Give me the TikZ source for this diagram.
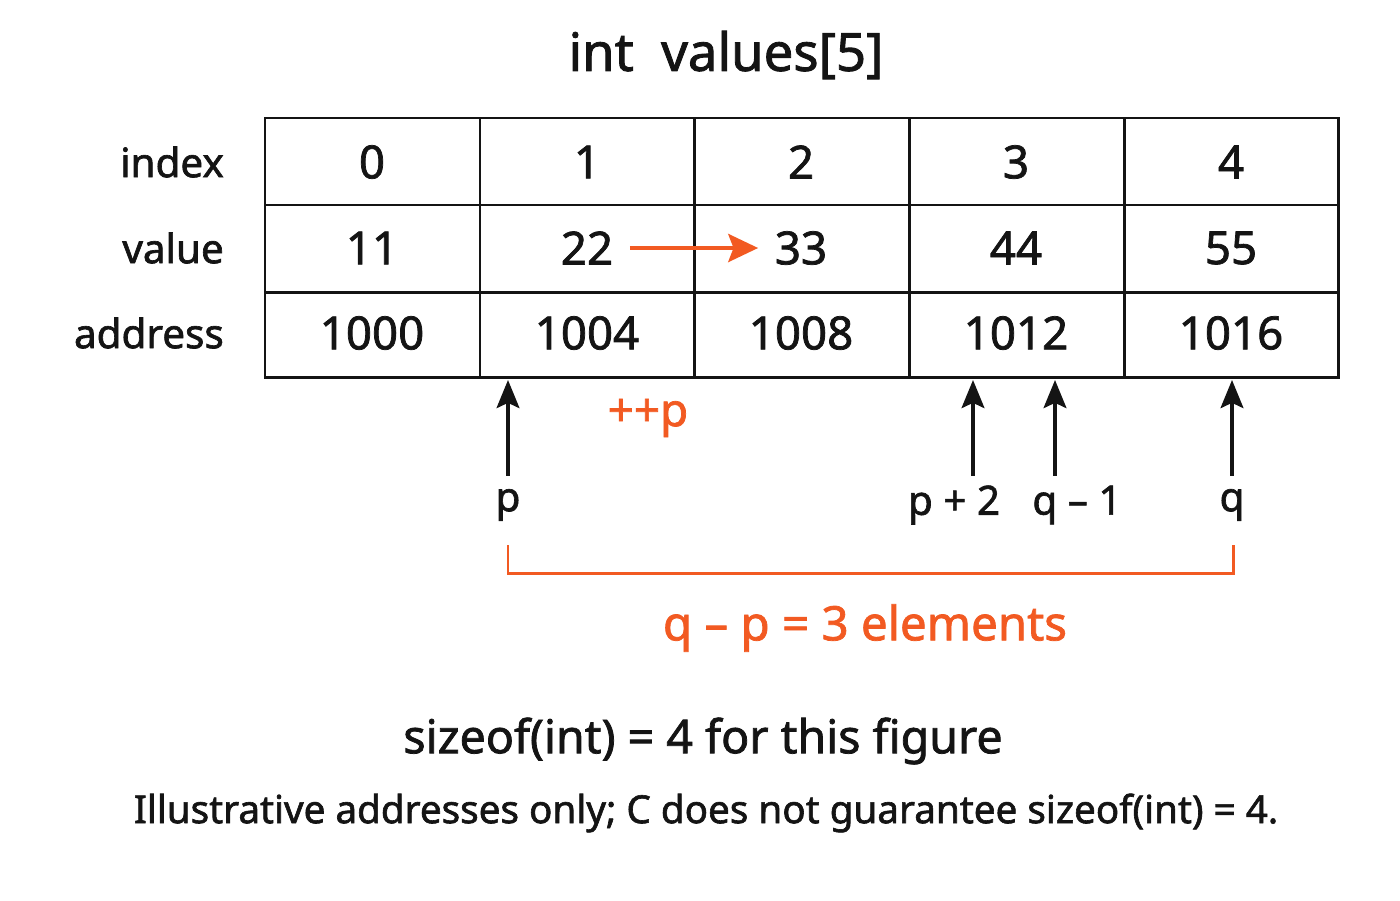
\documentclass[tikz,border=0pt]{standalone}
\usepackage{fontspec}
\setmainfont{Noto Sans}[FakeBold=1.6]
\usepackage{tikz}
\usetikzlibrary{arrows.meta,positioning}
\usepackage{xcolor}
\definecolor{ptrorange}{RGB}{242,90,34}
\definecolor{ptrblack}{RGB}{20,20,20}
\tikzstyle{cell} = [font=\fontsize{26}{30}\selectfont, text=ptrblack]
\tikzstyle{rowlabel} = [anchor=east, font=\fontsize{23}{28}\selectfont, text=ptrblack]
\tikzstyle{ptrlabel} = [font=\fontsize{23}{28}\selectfont, text=ptrblack]
\tikzstyle{ptrarrow} = [line width=1.9pt, ptrblack, -{Stealth[length=16pt,width=13pt,inset=3pt]}]
\tikzstyle{steparrow} = [line width=2.2pt, ptrorange, -{Stealth[length=17pt,width=16pt,inset=3pt]}]

\begin{document}
\begin{tikzpicture}[x=0.02cm, y=-0.02cm]
\useasboundingbox (0,0) rectangle (1400,900);

% Title
\node[font=\fontsize{30}{36}\selectfont, text=ptrblack] (title) at (726,55) {int\ \ values[5]};

% Table grid
\draw[line width=1.7pt, ptrblack] (265,118) rectangle (1338,377);
\draw[line width=1.7pt, ptrblack] (265,205) -- (1338,205);
\draw[line width=1.7pt, ptrblack] (265,292) -- (1338,292);
\foreach \x in {480,694,909,1124}
  \draw[line width=1.7pt, ptrblack] (\x,118) -- (\x,377);

% Row labels
\node[rowlabel] (lindex) at (230,162) {index};
\node[rowlabel] (lvalue) at (230,248) {value};
\node[rowlabel] (laddr) at (230,333) {address};

% Cells
\node[cell] (i0) at (372,162) {0};
\node[cell] (i1) at (587,162) {1};
\node[cell] (i2) at (801,162) {2};
\node[cell] (i3) at (1016,162) {3};
\node[cell] (i4) at (1231,162) {4};
\node[cell] (v0) at (372,248) {11};
\node[cell] (v1) at (587,248) {22};
\node[cell] (v2) at (801,248) {33};
\node[cell] (v3) at (1016,248) {44};
\node[cell] (v4) at (1231,248) {55};
\node[cell] (a0) at (372,333) {1000};
\node[cell] (a1) at (587,333) {1004};
\node[cell] (a2) at (801,333) {1008};
\node[cell] (a3) at (1016,333) {1012};
\node[cell] (a4) at (1231,333) {1016};

% ++p step
\draw[steparrow, shorten <=6pt, shorten >=6pt] (v1.east) -- (v2.west);
\node[font=\fontsize{26}{30}\selectfont, text=ptrorange] (incp) at (648,418) {++p};

% Pointers
\coordinate (tp) at (508,380);
\coordinate (tp2) at (973,380);
\coordinate (tq1) at (1055,380);
\coordinate (tq) at (1232,380);
\node[ptrlabel] (p) at (508,505) {p};
\node[ptrlabel] (p2) at (954,505) {p + 2};
\node[ptrlabel] (q1) at (1077,505) {q – 1};
\node[ptrlabel] (q) at (1232,505) {q};
\draw[ptrarrow, shorten <=4pt] (tp |- p.north) -- (tp);
\draw[ptrarrow, shorten <=4pt] (tp2 |- p.north) -- (tp2);
\draw[ptrarrow, shorten <=4pt] (tq1 |- p.north) -- (tq1);
\draw[ptrarrow, shorten <=4pt] (tq |- p.north) -- (tq);

% Distance bracket
\draw[line width=1.7pt, ptrorange] (508,545) -- (508,573) -- (1233,573) -- (1233,545);
\node[font=\fontsize{27}{32}\selectfont, text=ptrorange] (diff) at (865,628) {q – p = 3 elements};

% Notes
\node[font=\fontsize{26.5}{30}\selectfont, text=ptrblack] (note1) at (703,741) {sizeof(int) = 4 for this figure};
\node[font=\fontsize{22}{26}\selectfont, text=ptrblack] (note2) at (706,813) {Illustrative addresses only; C does not guarantee sizeof(int) = 4.};
\end{tikzpicture}
\end{document}
